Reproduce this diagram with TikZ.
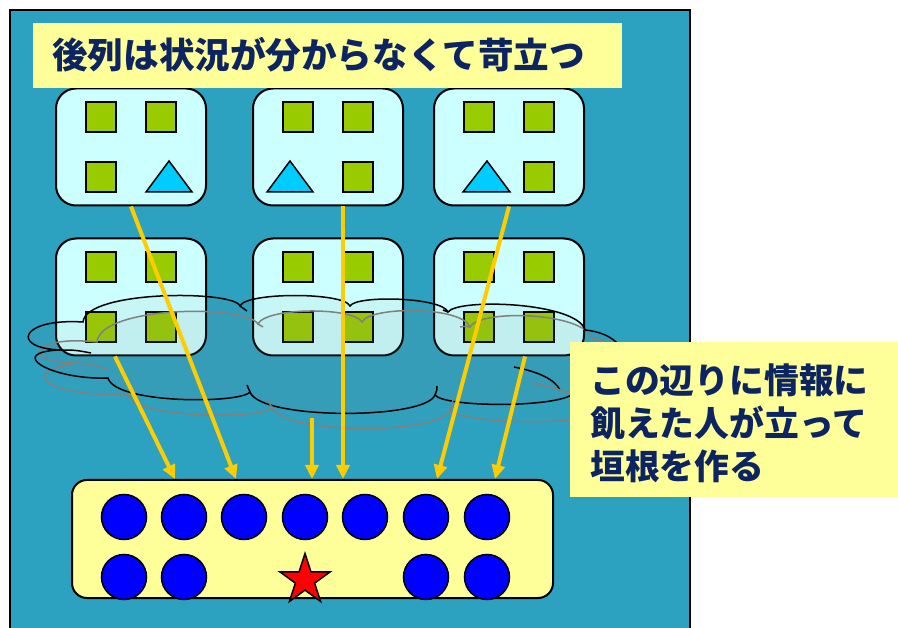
\documentclass[tikz,border=0pt]{standalone}
\usepackage{fontspec}
\newfontfamily\jp{Noto Sans CJK JP}
\usetikzlibrary{shapes.geometric,arrows.meta,calc}
\definecolor{panel}{RGB}{44,162,192}
\definecolor{pale}{RGB}{255,255,153}
\definecolor{boxc}{RGB}{204,255,255}
\definecolor{sq}{RGB}{153,204,0}
\definecolor{tri}{RGB}{0,204,255}
\definecolor{disc}{RGB}{0,0,255}
\definecolor{arr}{RGB}{255,204,0}
\definecolor{navy}{RGB}{12,36,97}
\begin{document}
\begin{tikzpicture}[x=1pt,y=-1pt,
  grp/.style={draw=black,line width=2pt,fill=boxc,rounded corners=20pt,minimum width=150pt,minimum height=117pt,inner sep=0pt},
  sqr/.style={draw=black,line width=1.5pt,fill=sq,minimum size=30pt,inner sep=0pt},
  trg/.style={draw=black,line width=1.5pt,fill=tri,line join=miter},
  dot/.style={circle,draw=black,line width=1.5pt,fill=disc,minimum size=45pt,inner sep=0pt},
  flow/.style={draw=arr,line width=4pt,-{Triangle[width=13pt,length=14pt]}},
  cloudblack/.style={draw=black,line width=1.5pt},
  cloudgrey/.style={draw=gray,line width=1.5pt},
  note/.style={fill=pale,inner sep=0pt},
  label/.style={text=navy,inner sep=0pt,font=\jp\bfseries},
]
\useasboundingbox (0,0) rectangle (898,628);
\fill[white] (0,0) rectangle (898,628);
% panel
\draw[fill=panel,line width=2pt] (10,640) -- (10,10) -- (690,10) -- (690,640);
% group boxes
\node[grp] (t1) at (131,147) {};
\node[grp] (t2) at (328,147) {};
\node[grp] (t3) at (509,147) {};
\node[grp] (b1) at (131,297) {};
\node[grp] (b2) at (328,297) {};
\node[grp] (b3) at (509,297) {};
% squares
\node[sqr] (t1a) at ($(t1)+(-30,-30)$) {};
\node[sqr] (t1b) at ($(t1)+(30,-30)$) {};
\node[sqr] (t1c) at ($(t1)+(-30,30)$) {};
\node[sqr] (t2a) at ($(t2)+(-30,-30)$) {};
\node[sqr] (t2b) at ($(t2)+(30,-30)$) {};
\node[sqr] (t2d) at ($(t2)+(30,30)$) {};
\node[sqr] (t3a) at ($(t3)+(-30,-30)$) {};
\node[sqr] (t3b) at ($(t3)+(30,-30)$) {};
\node[sqr] (t3d) at ($(t3)+(30,30)$) {};
\foreach \g in {b1,b2,b3}{
  \node[sqr] (\g a) at ($(\g)+(-30,-30)$) {};
  \node[sqr] (\g b) at ($(\g)+(30,-30)$) {};
  \node[sqr] (\g c) at ($(\g)+(-30,30)$) {};
  \node[sqr] (\g d) at ($(\g)+(30,30)$) {};
}
% triangles
\draw[trg] ($(t1)+(15,45)$) -- ($(t1)+(38,14)$) -- ($(t1)+(61,45)$) -- cycle;
\draw[trg] ($(t2)+(-61,45)$) -- ($(t2)+(-38,14)$) -- ($(t2)+(-15,45)$) -- cycle;
\draw[trg] ($(t3)+(-46,45)$) -- ($(t3)+(-22,14)$) -- ($(t3)+(1,45)$) -- cycle;
% title
\node[note,minimum width=589pt,minimum height=65pt] (title) at (327.5,55.5) {};
\node[label,anchor=west,font=\jp\bfseries\fontsize{35.6}{40}\selectfont] (titletext) at (52,55) {後列は状況が分からなくて苛立つ};
% clouds
\draw[cloudgrey,fill=gray,fill opacity=0.06]
 (97,342) .. controls (100,306) and (246,304) .. (258,324)
 .. controls (266,307) and (354,307) .. (362,322)
 .. controls (370,306) and (462,306) .. (470,327)
 .. controls (480,309) and (582,312) .. (592,338)
 .. controls (640,345) and (640,420) .. (590,417)
 .. controls (575,424) and (460,424) .. (450,410)
 .. controls (440,435) and (285,435) .. (272,408)
 .. controls (262,419) and (132,419) .. (128,394)
 .. controls (60,398) and (10,375) .. (75,363)
 .. controls (20,362) and (30,335) .. (97,342) -- cycle;
\draw[cloudblack,fill=gray,fill opacity=0.07]
 (83,322) .. controls (86,290) and (234,290) .. (240,306)
 .. controls (246,292) and (344,292) .. (350,306)
 .. controls (356,295) and (442,297) .. (448,312)
 .. controls (458,298) and (577,302) .. (585,330)
 .. controls (640,335) and (640,392) .. (575,392)
 .. controls (565,408) and (445,408) .. (435,395)
 .. controls (425,420) and (260,420) .. (250,392)
 .. controls (240,404) and (115,404) .. (108,378)
 .. controls (50,380) and (5,352) .. (60,350)
 .. controls (10,348) and (20,318) .. (83,322) -- cycle;
% cloud inner hooks
\draw[cloudblack] (240,306) .. controls (243,308) .. (247,311);
\draw[cloudblack] (448,312) .. controls (446,311) .. (443,310);
\draw[cloudblack] (514,367) .. controls (540,372) and (555,380) .. (560,390);
\draw[cloudblack] (435,395) .. controls (437,390) .. (437,386);
\draw[cloudblack] (250,392) .. controls (249,388) .. (247,385);
\draw[cloudblack] (60,350) .. controls (75,350) .. (91,353);
\draw[cloudgrey] (258,324) .. controls (260,325) .. (263,327);
\draw[cloudgrey] (470,327) .. controls (466,326) .. (460,327);
\draw[cloudgrey] (532,383) .. controls (555,388) and (570,392) .. (580,398);
\draw[cloudgrey] (450,410) .. controls (452,405) .. (453,400);
\draw[cloudgrey] (272,408) .. controls (270,404) .. (268,400);
\draw[cloudgrey] (75,363) .. controls (90,364) .. (107,369);
% base box
\node[draw=black,line width=2pt,fill=pale,rounded corners=15pt,minimum width=481pt,minimum height=118pt,inner sep=0pt] (base) at (312.5,539) {};
\foreach \i/\x in {1/124,2/184,3/244,4/305,5/365,6/426,7/487}{
  \node[dot] (u\i) at (\x,517) {};
}
\foreach \i/\x in {1/124,2/184,6/426,7/487}{
  \node[dot] (l\i) at (\x,577) {};
}
\node[star,star points=5,star point ratio=2.618,draw=black,line width=1.5pt,fill=red,minimum size=53pt,inner sep=0pt] (lead) at (305,580) {};
% arrows
\coordinate (s2) at ($(b1.south)+(-16,0)$);
\coordinate (s3) at ($(t2.south)+(15,0)$);
\coordinate (s4) at (312,418);
\coordinate (s6) at ($(b3.south)+(16,0)$);
\coordinate (e1) at ($(base.north west)+(165,0)$);
\coordinate (e2) at ($(base.north west)+(104,0)$);
\coordinate (e3) at ($(base.north west)+(272,0)$);
\coordinate (e4) at ($(base.north west)+(241,0)$);
\coordinate (e5) at ($(base.north west)+(366,0)$);
\coordinate (e6) at ($(base.north west)+(424,0)$);
\draw[flow] (t1.south) -- (e1);
\draw[flow] (s2) -- (e2);
\draw[flow] (s3) -- (e3);
\draw[flow] (s4) -- (e4);
\draw[flow] (t3.south) -- (e5);
\draw[flow] (s6) -- (e6);
% side note
\node[note,minimum width=328pt,minimum height=155pt] (side) at (734,419.5) {};
\node[label,anchor=west,align=left,font=\jp\bfseries\fontsize{34.8}{43}\selectfont] (sidetext) at (590,423) {この辺りに情報に\\飢えた人が立って\\垣根を作る};
\end{tikzpicture}
\end{document}
